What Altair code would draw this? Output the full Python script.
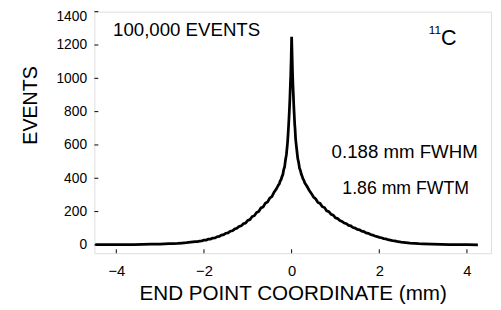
import altair as alt
import pandas as pd

# ---- data ----
x_mm = [
    -4.48, -4.20, -4.00, -3.80, -3.60, -3.40, -3.20, -3.00, -2.90, -2.80, -2.70, -2.60,
    -2.50, -2.40, -2.30, -2.20, -2.15, -2.10, -2.05, -2.00, -1.95, -1.90, -1.85, -1.80,
    -1.75, -1.70, -1.65, -1.60, -1.55, -1.50, -1.45, -1.40, -1.35, -1.30, -1.25, -1.20,
    -1.15, -1.10, -1.05, -1.00, -0.95, -0.90, -0.85, -0.80, -0.75, -0.70, -0.65, -0.60,
    -0.55, -0.50, -0.45, -0.40, -0.35, -0.30, -0.28, -0.26, -0.24, -0.22, -0.20, -0.18,
    -0.16, -0.14, -0.12, -0.10, -0.09, -0.08, -0.07, -0.06, -0.05, -0.04, -0.03, -0.02,
    -0.01, 0.00,
    0.01, 0.02, 0.03, 0.04, 0.05, 0.06, 0.07, 0.08, 0.09, 0.10, 0.12, 0.14,
    0.16, 0.18, 0.20, 0.22, 0.24, 0.26, 0.28, 0.30, 0.35, 0.40, 0.45, 0.50,
    0.55, 0.60, 0.65, 0.70, 0.75, 0.80, 0.85, 0.90, 0.95, 1.00, 1.05, 1.10,
    1.15, 1.20, 1.25, 1.30, 1.35, 1.40, 1.45, 1.50, 1.55, 1.60, 1.65, 1.70,
    1.75, 1.80, 1.85, 1.90, 1.95, 2.00, 2.05, 2.10, 2.15, 2.20, 2.25, 2.30,
    2.35, 2.40, 2.50, 2.60, 2.70, 2.80, 2.90, 3.00, 3.20, 3.40, 3.60, 3.80,
    4.00, 4.25,
]
events = [
    1, 1, 1, 2, 2, 3, 4, 5, 6, 7, 8, 9,
    11, 13, 16, 19, 20, 23, 24, 28, 29, 34, 35, 41,
    42, 49, 51, 59, 61, 70, 72, 82, 85, 95, 99, 110,
    114, 127, 131, 147, 152, 170, 175, 194, 201, 222, 228, 250,
    257, 280, 290, 316, 335, 360, 367, 384, 392, 410, 422, 452,
    468, 510, 540, 594, 625, 668, 712, 762, 815, 875, 950, 1020,
    1120, 1250,
    1150, 1040, 960, 900, 830, 780, 725, 690, 640, 612, 565, 518,
    495, 460, 447, 425, 412, 396, 388, 372, 352, 328, 309, 287,
    276, 255, 249, 229, 224, 204, 199, 183, 178, 162, 158, 146,
    141, 131, 127, 117, 114, 104, 101, 93, 90, 82, 80, 72,
    69, 62, 59, 53, 50, 45, 43, 38, 36, 31, 29, 26,
    24, 21, 17, 14, 11, 9, 7, 6, 4, 3, 2, 1,
    1, 0,
]
x_ticks = [-4, -2, 0, 2, 4]
y_ticks = [0, 200, 400, 600, 800, 1000, 1200, 1400]
x_title = "END POINT COORDINATE (mm)"
y_title = "EVENTS"
label_events = "100,000 EVENTS"
label_mass = "11"
label_elem = "C"
label_fwhm = "0.188 mm FWHM"
label_fwtm = "1.86 mm FWTM"

FONT = "Liberation Sans"
W, H = 404, 246

df = pd.DataFrame({"x": x_mm, "y": events})
xs = alt.Scale(domain=[-4.5, 4.55], nice=False, zero=False)
ys = alt.Scale(domain=[-50, 1400], nice=False, zero=False)

ax_x = alt.Axis(
    values=x_ticks, title=x_title, grid=False, domain=False, ticks=False,
    labelOverlap=False, labelFlush=False, labelBound=False, format="d",
    labelPadding=11, labelFontSize=15, labelFont=FONT, labelColor="black",
    titleFont=FONT, titleFontSize=21, titleFontWeight="normal", titleColor="black",
    titleY=47, titleBaseline="alphabetic")
ax_y = alt.Axis(
    values=y_ticks, title=y_title, grid=False, domain=False, ticks=False,
    labelOverlap=False, labelFlush=False, labelBound=False, format="d",
    labelOffset={"condition": {"test": "datum.value == 1400", "value": 5}, "value": 0},
    labelPadding=8, labelFontSize=14, labelFont=FONT, labelColor="black",
    titleFont=FONT, titleFontSize=20, titleFontWeight="normal", titleColor="black",
    titleAngle=270, titleX=-59, titleY=95, titleAlign="center",
    titleBaseline="alphabetic")

line = alt.Chart(df).mark_line(color="black", strokeWidth=2.8, clip=True).encode(
    x=alt.X("x:Q", scale=xs, axis=ax_x),
    y=alt.Y("y:Q", scale=ys, axis=ax_y),
)

xt = alt.Chart(pd.DataFrame({"x": x_ticks})).mark_rule(color="black", strokeWidth=1).encode(
    x=alt.X("x:Q", scale=xs, axis=ax_x), y=alt.value(H), y2=alt.value(H - 4))
yt = alt.Chart(pd.DataFrame({"y": y_ticks})).mark_rule(color="black", strokeWidth=1).encode(
    y=alt.Y("y:Q", scale=ys, axis=ax_y), x=alt.value(0), x2=alt.value(4))

def txt(s, x, y, size, align):
    return alt.Chart(pd.DataFrame({"s": [s]})).mark_text(
        font=FONT, fontSize=size, color="black", align=align, baseline="alphabetic"
    ).encode(text="s:N", x=alt.value(x), y=alt.value(y))

texts = [
    txt(label_events, 19, 25, 19, "left"),
    txt(label_mass, 353, 23, 12, "right"),
    txt(label_elem, 353, 34, 22, "left"),
    txt(label_fwhm, 316, 149, 19, "center"),
    txt(label_fwtm, 317, 186, 18, "center"),
]

chart = alt.layer(line, xt, yt, *texts).properties(
    width=W, height=H,
    autosize=alt.AutoSizeParams(type="none"),
    padding={"left": 88, "top": 1, "right": 2, "bottom": 50},
).configure_view(stroke="black", strokeWidth=1.5).configure(background="white")

chart.save("out.html", embed_options={"renderer": "svg", "actions": False})
